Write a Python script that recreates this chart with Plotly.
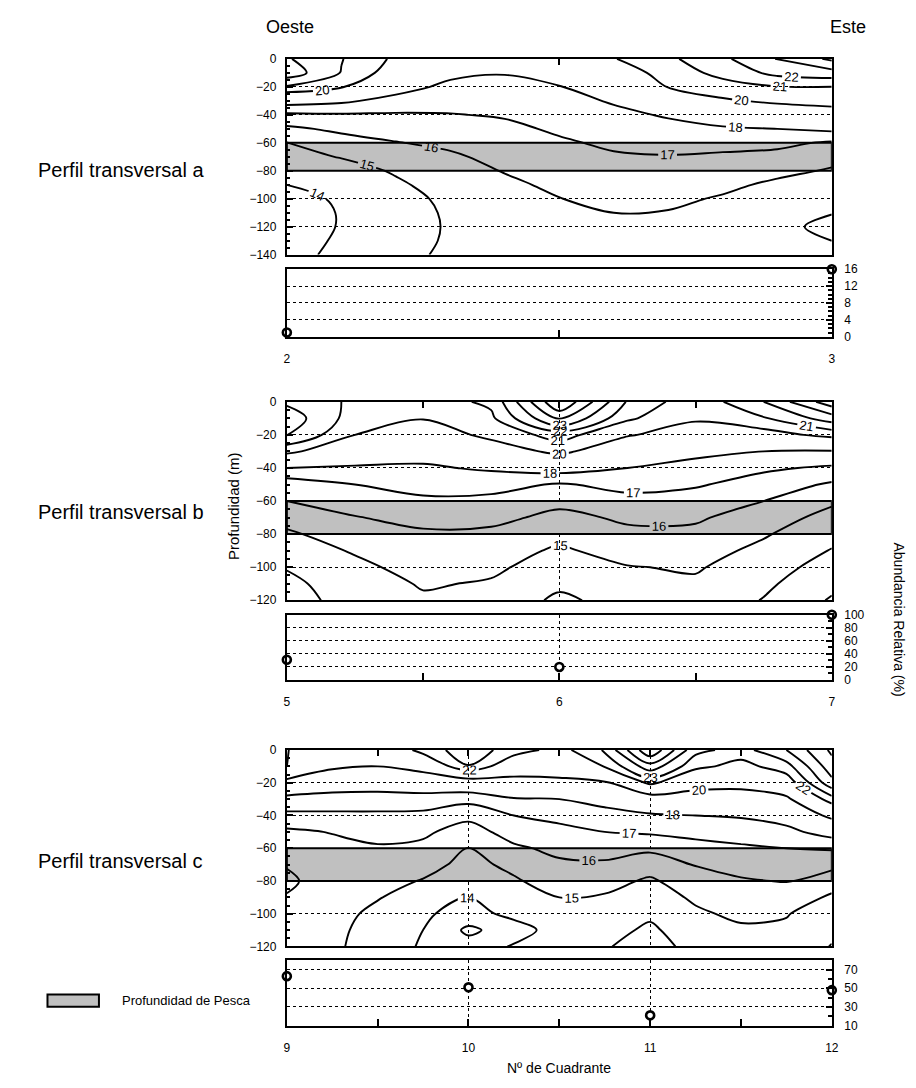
import numpy as np
import plotly.graph_objects as go

FONT = "Liberation Sans, Arial, sans-serif"

# ---------------- DATA ----------------
# Panel a: temperature profiles (°C) at each x position, depths 0..-140 m
depth_a = [0, -10, -20, -30, -40, -50, -60, -70, -80, -90, -100, -110, -120, -130, -140]
x_a = [2.0, 2.1, 2.2, 2.3, 2.4, 2.5, 2.6, 2.7, 2.8, 2.9, 3.0]
temp_a = [
    [22.1, 22.6, 20.9, 18.5, 16.8, 15.8, 14.97, 14.66, 14.34, 14.0, 13.75, 13.6, 13.6, 13.7, 13.8],
    [21.05, 20.95, 20.1, 18.2, 16.9, 16.2, 15.6, 15.05, 14.6, 14.25, 14.1, 14.05, 14.05, 14.1, 14.15],
    [19.8, 19.4, 18.5, 17.6, 16.9, 16.4, 15.96, 15.5, 15.1, 14.85, 14.6, 14.5, 14.45, 14.5, 14.6],
    [19.2, 18.3, 17.7, 17.35, 16.96, 16.6, 16.2, 15.85, 15.6, 15.4, 15.25, 15.15, 15.12, 15.15, 15.25],
    [19.3, 18.05, 17.7, 17.4, 17.08, 16.8, 16.55, 16.3, 16.05, 15.8, 15.65, 15.55, 15.5, 15.5, 15.55],
    [19.2, 18.5, 17.95, 17.65, 17.4, 17.13, 16.88, 16.65, 16.43, 16.2, 15.98, 15.85, 15.8, 15.8, 15.85],
    [19.95, 19.3, 18.7, 18.1, 17.75, 17.45, 17.15, 16.9, 16.7, 16.45, 16.22, 16.0, 15.9, 15.85, 15.9],
    [20.8, 20.45, 20.05, 19.1, 18.1, 17.7, 17.3, 16.95, 16.7, 16.45, 16.2, 15.95, 15.8, 15.7, 15.7],
    [21.8, 21.3, 20.6, 19.85, 18.7, 17.85, 17.3, 16.85, 16.55, 16.22, 15.9, 15.6, 15.4, 15.3, 15.3],
    [23.05, 22.3, 20.95, 20.2, 19.2, 18.0, 17.25, 16.7, 16.25, 15.8, 15.5, 15.3, 15.15, 15.15, 15.25],
    [24.2, 22.6, 20.98, 20.35, 19.5, 18.25, 16.85, 16.3, 15.9, 15.6, 15.3, 15.02, 14.85, 15.0, 15.1],
]
levels_a = [14, 15, 16, 17, 18, 20, 21, 22, 23, 24]
abund_a_x = [2, 3]
abund_a_y = [1, 16]

# Panel b
depth_bc = [0, -10, -20, -30, -40, -50, -60, -70, -80, -90, -100, -110, -120]
x_b = [5.0, 5.25, 5.5, 5.75, 6.0, 6.25, 6.5, 6.75, 7.0]
temp_b = [
    [21.8, 22.6, 22.05, 20.3, 18.0, 16.4, 16.0, 15.35, 14.85, 14.45, 14.05, 13.8, 13.7],
    [20.8, 20.5, 20.0, 18.9, 17.85, 17.0, 16.45, 15.95, 15.5, 15.1, 14.75, 14.45, 14.3],
    [20.5, 20.05, 19.3, 18.45, 17.85, 17.3, 16.85, 16.3, 15.85, 15.6, 15.4, 15.1, 14.85],
    [21.2, 20.8, 20.3, 19.3, 18.15, 17.35, 16.75, 16.25, 15.8, 15.45, 15.2, 14.9, 14.7],
    [26.0, 24.2, 21.4, 20.3, 18.5, 16.9, 16.25, 15.75, 15.3, 14.85, 14.5, 14.2, 13.8],
    [21.9, 21.15, 20.1, 19.0, 18.0, 17.3, 16.7, 16.15, 15.8, 15.4, 14.95, 14.65, 14.4],
    [20.3, 20.15, 19.4, 18.3, 17.6, 17.1, 16.6, 16.15, 15.75, 15.4, 15.1, 14.85, 14.7],
    [22.0, 20.9, 19.5, 18.0, 17.15, 16.6, 16.0, 15.45, 15.1, 14.75, 14.45, 14.2, 13.95],
    [24.6, 22.5, 20.35, 17.9, 16.85, 15.85, 15.15, 14.7, 14.3, 13.95, 13.6, 13.25, 12.9],
]
levels_b = [13, 14, 15, 16, 17, 18, 20, 21, 22, 23, 24, 25]
abund_b_x = [5, 6, 7]
abund_b_y = [31, 20, 100]

# Panel c
x_c = [9.0, 9.25, 9.5, 9.75, 10.0, 10.25, 10.5, 10.75, 11.0, 11.25, 11.5, 11.75, 12.0]
temp_c = [
    [22.05, 22.1, 19.4, 17.6, 16.8, 15.8, 15.35, 15.05, 14.85, 15.05, 15.2, 15.3, 15.35],
    [20.9, 20.3, 18.6, 17.6, 16.8, 16.05, 15.7, 15.5, 15.4, 15.35, 15.3, 15.25, 15.2],
    [20.7, 20.0, 18.5, 17.6, 16.8, 16.3, 15.9, 15.6, 15.3, 15.05, 14.8, 14.6, 14.5],
    [22.4, 20.7, 18.7, 17.6, 16.75, 16.2, 15.75, 15.3, 14.95, 14.6, 14.15, 14.0, 13.9],
    [23.6, 22.95, 19.0, 17.3, 16.3, 15.5, 14.95, 14.75, 14.45, 14.0, 13.6, 12.8, 13.4],
    [22.5, 21.0, 19.4, 17.9, 17.0, 16.5, 15.8, 15.2, 14.9, 14.6, 14.3, 13.5, 14.1],
    [21.6, 20.9, 19.6, 18.0, 17.2, 16.8, 16.3, 15.8, 15.4, 15.0, 14.75, 14.5, 14.35],
    [23.1, 22.05, 19.8, 18.4, 17.6, 17.0, 16.4, 15.85, 15.35, 14.9, 14.6, 14.3, 14.05],
    [26.9, 24.6, 22.3, 19.1, 17.85, 17.15, 16.2, 15.45, 14.85, 14.55, 14.15, 13.85, 13.75],
    [23.3, 22.3, 20.6, 19.3, 18.0, 17.3, 16.65, 16.05, 15.6, 15.15, 14.85, 14.5, 14.2],
    [22.6, 21.6, 20.4, 19.4, 18.1, 17.45, 16.85, 16.35, 15.9, 15.5, 15.2, 14.85, 14.6],
    [24.0, 22.6, 21.3, 19.7, 18.5, 17.7, 17.0, 16.45, 16.05, 15.55, 15.05, 14.85, 14.75],
    [26.2, 25.6, 24.7, 22.6, 20.4, 18.5, 17.1, 16.3, 15.45, 14.85, 14.5, 14.25, 13.95],
]
levels_c = [13, 14, 15, 16, 17, 18, 20, 22, 23, 24, 25, 26]
abund_c_x = [9, 10, 11, 12]
abund_c_y = [63, 51, 21, 48]

fishing_depth = [-80, -60]

panel_titles = ["Perfil transversal a", "Perfil transversal b", "Perfil transversal c"]

# ---------------- FIGURE ----------------
fig = go.Figure()

X_DOM = [0.3133, 0.9148]
CONT_DOM = [[0.7693, 0.9517], [0.4476, 0.6324], [0.1253, 0.3082]]
AB_DOM = [[0.6930, 0.7558], [0.3734, 0.4341], [0.0512, 0.1124]]


def add_contours(x, y, profiles, levels, xa, ya):
    z = np.array(profiles).T
    for L in levels:
        fig.add_trace(go.Contour(
            x=x, y=y, z=z, xaxis=xa, yaxis=ya, autocontour=False,
            contours=dict(start=L, end=L + 0.5, size=1, coloring='lines', showlabels=True,
                          labelfont=dict(family=FONT, size=13, color='black')),
            colorscale=[[0, 'black'], [1, 'black']], showscale=False,
            line=dict(width=1.9), hoverinfo='skip'))


def add_points(x, y, xa, ya):
    fig.add_trace(go.Scatter(
        x=x, y=y, xaxis=xa, yaxis=ya, mode='markers', cliponaxis=False,
        marker=dict(symbol='circle', size=8, color='white', line=dict(color='black', width=2.6)),
        hoverinfo='skip'))


add_contours(x_a, depth_a, temp_a, levels_a, 'x', 'y')
add_points(abund_a_x, abund_a_y, 'x2', 'y2')
add_contours(x_b, depth_bc, temp_b, levels_b, 'x3', 'y3')
add_points(abund_b_x, abund_b_y, 'x4', 'y4')
add_contours(x_c, depth_bc, temp_c, levels_c, 'x5', 'y5')
add_points(abund_c_x, abund_c_y, 'x6', 'y6')

common = dict(showline=True, linecolor='black', linewidth=2, mirror=True, zeroline=False,
              tickcolor='black', tickwidth=1.5, showgrid=True, gridcolor='black',
              griddash='dot', gridwidth=1, tickfont=dict(family=FONT, size=12, color='black'))

xranges = [[x_a[0], x_a[-1]], [x_b[0], x_b[-1]], [x_c[0], x_c[-1]]]
yranges_c = [[depth_a[-1], 0], [depth_bc[-1], 0], [depth_bc[-1], 0]]
ab_ranges = [[0, 16], [0, 100], [9.6, 80]]
ab_dtick = [4, 20, 20]
ab_minor = [1, 10, 10]
ab_tick0 = [0, 0, 10]

layout_axes = {}
for i in range(3):
    cx = 2 * i + 1
    ax = 2 * i + 2
    sx = '' if cx == 1 else str(cx)
    layout_axes['xaxis' + sx] = dict(
        common, domain=X_DOM, range=xranges[i], anchor='y' + sx, side='top',
        ticks='inside', ticklen=6, dtick=1, showticklabels=False,
        minor=dict(dtick=0.5, ticks='inside', ticklen=6, tickcolor='black', showgrid=False))
    layout_axes['yaxis' + sx] = dict(
        common, domain=CONT_DOM[i], range=yranges_c[i], anchor='x' + sx,
        ticks='inside', ticklen=6, dtick=20, ticklabelstandoff=6,
        minor=dict(dtick=5, ticks='inside', ticklen=3, tickcolor='black', showgrid=False))
    layout_axes['xaxis' + str(ax)] = dict(
        common, domain=X_DOM, range=xranges[i], anchor='y' + str(ax), side='bottom',
        ticks='inside', ticklen=7, dtick=1, ticklabelstandoff=10,
        minor=dict(dtick=0.5, ticks='inside', ticklen=7, tickcolor='black', showgrid=False))
    layout_axes['yaxis' + str(ax)] = dict(
        common, domain=AB_DOM[i], range=ab_ranges[i], anchor='x' + str(ax), side='right',
        ticks='inside', ticklen=6, dtick=ab_dtick[i], tick0=ab_tick0[i], ticklabelstandoff=8,
        minor=dict(dtick=ab_minor[i], tick0=ab_tick0[i], ticks='inside', ticklen=4,
                   tickcolor='black', showgrid=False))

shapes = []
for i in range(3):
    sx = '' if i == 0 else str(2 * i + 1)
    shapes.append(dict(type='rect', xref='x' + sx, yref='y' + sx,
                       x0=xranges[i][0], x1=xranges[i][1],
                       y0=fishing_depth[0], y1=fishing_depth[1],
                       fillcolor='#c0c0c0', line=dict(color='black', width=2), layer='between'))
# legend swatch
shapes.append(dict(type='rect', xref='paper', yref='paper', x0=0.0491, x1=0.1059,
                   y0=0.0692, y1=0.0805, fillcolor='#c0c0c0', line=dict(color='black', width=2)))

ann_common = dict(xref='paper', yref='paper', showarrow=False, xanchor='center', yanchor='middle')
annotations = [
    dict(ann_common, text='Oeste', x=0.3166, y=0.9810, font=dict(size=18)),
    dict(ann_common, text='Este', x=0.933, y=0.9810, font=dict(size=18)),
    dict(ann_common, text='Profundidad (m)', x=0.2544, y=0.5358, textangle=-90, font=dict(size=15)),
    dict(ann_common, text='Abundancia Relativa (%)', x=0.9885, y=0.4301, textangle=90,
         font=dict(size=14)),
    dict(ann_common, text='Nº de Cuadrante', x=0.6135, y=0.0119, font=dict(size=14)),
    dict(ann_common, text='Profundidad de Pesca', x=0.1288, y=0.0750, xanchor='left',
         font=dict(size=13)),
]
for t, yy in zip(panel_titles, [0.8483, 0.5294, 0.2050]):
    annotations.append(dict(ann_common, text=t, x=0.130, y=yy, font=dict(size=20)))

fig.update_layout(
    width=916, height=1088, margin=dict(l=0, r=0, t=0, b=0),
    paper_bgcolor='white', plot_bgcolor='white', showlegend=False,
    font=dict(family=FONT, size=12, color='black'),
    shapes=shapes, annotations=annotations, **layout_axes)

fig.write_html("out.html")
